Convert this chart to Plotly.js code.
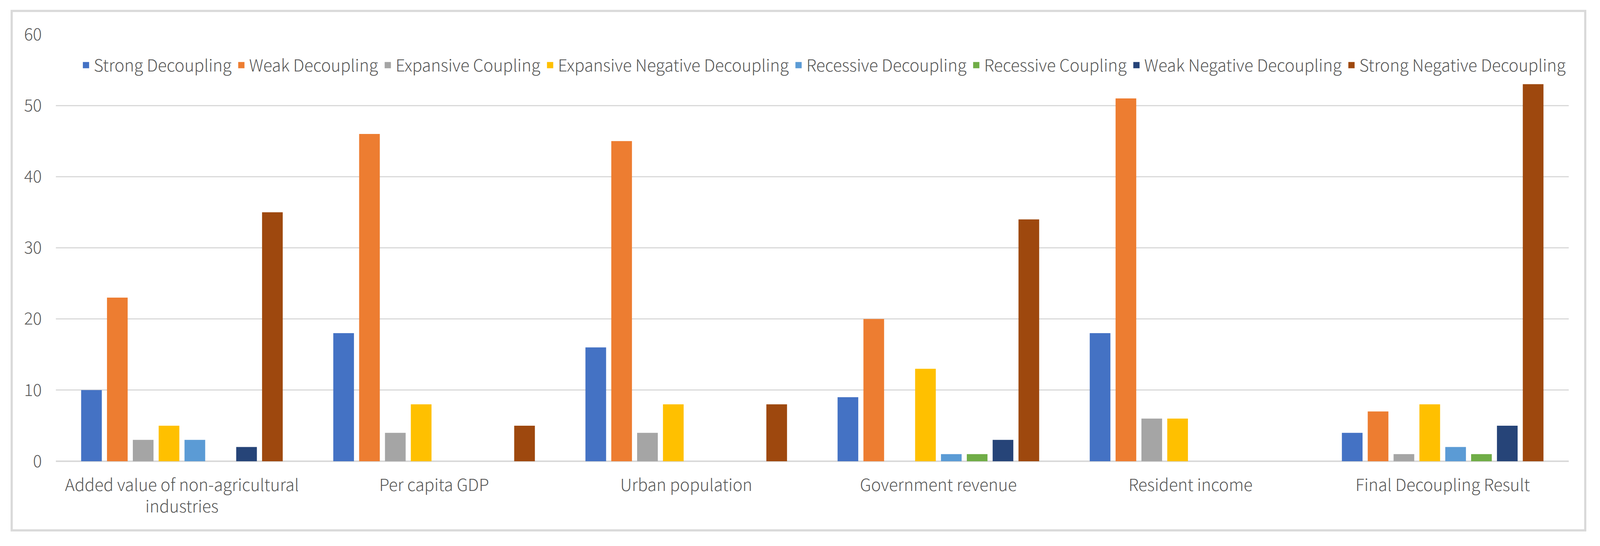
<!DOCTYPE html>
<html>
<head>
<meta charset="utf-8">
<script src="https://cdn.plot.ly/plotly-3.0.1.min.js"></script>
<style>html,body{margin:0;padding:0;background:#fff;overflow:hidden;}#chart{position:absolute;left:0;top:0;}</style>
</head>
<body>
<div id="chart"></div>
<script>
const categories = [
  "Added value of non-agricultural<br>industries",
  "Per capita GDP",
  "Urban population",
  "Government revenue",
  "Resident income",
  "Final Decoupling Result"
];
const seriesNames = [
  "Strong Decoupling",
  "Weak Decoupling",
  "Expansive Coupling",
  "Expansive Negative Decoupling",
  "Recessive Decoupling",
  "Recessive Coupling",
  "Weak Negative Decoupling",
  "Strong Negative Decoupling"
];
const strongDecoupling = [10, 18, 16, 9, 18, 4];
const weakDecoupling = [23, 46, 45, 20, 51, 7];
const expansiveCoupling = [3, 4, 4, 0, 6, 1];
const expansiveNegativeDecoupling = [5, 8, 8, 13, 6, 8];
const recessiveDecoupling = [3, 0, 0, 1, 0, 2];
const recessiveCoupling = [0, 0, 0, 1, 0, 1];
const weakNegativeDecoupling = [2, 0, 0, 3, 0, 5];
const strongNegativeDecoupling = [35, 5, 8, 34, 0, 53];
const yTicks = [0, 10, 20, 30, 40, 50, 60];

const seriesValues = [strongDecoupling, weakDecoupling, expansiveCoupling, expansiveNegativeDecoupling,
  recessiveDecoupling, recessiveCoupling, weakNegativeDecoupling, strongNegativeDecoupling];
const colors = ["#4472C4", "#ED7D31", "#A5A5A5", "#FFC000", "#5B9BD5", "#70AD47", "#264478", "#9E480E"];

const W = window.innerWidth || 4455;
const H = window.innerHeight || 1398;
const SX = W / 4455, SY = H / 1398, SF = Math.min(SX, SY);
document.getElementById("chart").style.width = W + "px";
document.getElementById("chart").style.height = H + "px";

const FONT = '"Noto Sans CJK SC", "Noto Sans", sans-serif';
const TXT = "#595959";
const FS = 46 * SF;

const barTraces = seriesNames.map((name, i) => ({
  type: "bar",
  name: name,
  legendgroup: name,
  showlegend: false,
  x: categories,
  y: seriesValues[i],
  marker: { color: colors[i], line: { width: 0 } },
  hoverinfo: "x+y+name"
}));
// legend-only entries (larger square keys, as in the original)
const keyTraces = seriesNames.map((name, i) => ({
  type: "scatter",
  mode: "markers",
  name: name,
  legendgroup: name,
  showlegend: true,
  x: [null],
  y: [null],
  marker: { color: colors[i], symbol: "square", size: 16 },
  hoverinfo: "skip"
}));

const layout = {
  width: W,
  height: H,
  paper_bgcolor: "#ffffff",
  plot_bgcolor: "#ffffff",
  margin: { l: Math.round(156 * SX), r: Math.round(87 * SX), t: Math.round(88 * SY), b: Math.round(217 * SY), pad: 0 },
  barmode: "group",
  bargap: 0.18,
  bargroupgap: 0.2,
  font: { family: FONT, color: TXT, size: FS, weight: 300 },
  showlegend: true,
  legend: {
    orientation: "h",
    x: 0.507, xanchor: "center",
    y: 0.928, yanchor: "middle",
    bgcolor: "rgba(0,0,0,0)",
    font: { family: FONT, color: TXT, size: FS, weight: 300 },
    itemwidth: 30,
    itemsizing: "trace",
    traceorder: "normal"
  },
  xaxis: {
    type: "category",
    categoryorder: "array",
    categoryarray: categories,
    showgrid: false,
    showline: false,
    ticks: "",
    ticklabelstandoff: Math.round(33 * SY),
    tickfont: { family: FONT, color: TXT, size: FS, weight: 300 },
    automargin: false
  },
  yaxis: {
    range: [0, 60],
    tickvals: yTicks,
    ticktext: yTicks.map(String),
    showgrid: true,
    gridcolor: "#D9D9D9",
    gridwidth: 3 * SF,
    zeroline: true,
    zerolinecolor: "#D9D9D9",
    zerolinewidth: 4 * SF,
    showline: false,
    ticks: "",
    ticklabelstandoff: Math.round(38 * SX),
    tickfont: { family: FONT, color: TXT, size: FS, weight: 300 },
    automargin: false,
    fixedrange: true
  },
  shapes: [{
    type: "rect",
    xref: "paper", yref: "paper",
    x0: -0.0292, x1: 1.0109,
    y0: -0.162, y1: 1.0549,
    line: { color: "#D9D9D9", width: 6 * SF },
    fillcolor: "rgba(0,0,0,0)",
    layer: "below"
  }]
};

Plotly.newPlot("chart", barTraces.concat(keyTraces), layout, { displayModeBar: false, staticPlot: true });
</script>
</body>
</html>
